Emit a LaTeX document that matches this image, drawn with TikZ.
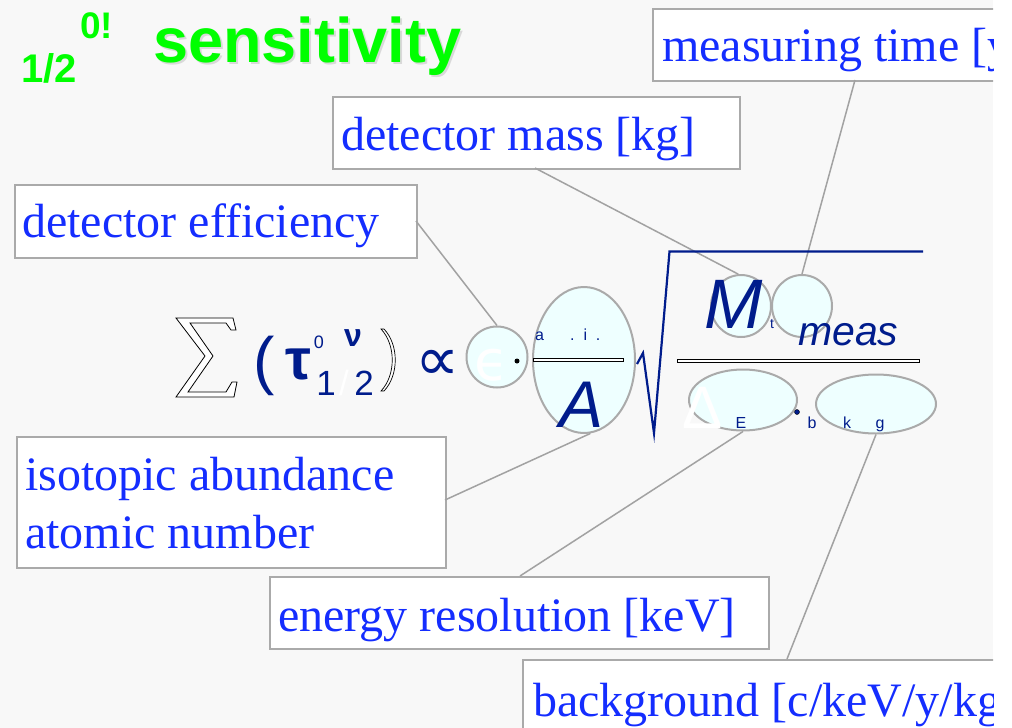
\documentclass[tikz,border=0pt]{standalone}
\usepackage{fontspec}
\setmainfont{Liberation Serif}
\newfontfamily\sansf{Liberation Sans}
\newfontfamily\dvs{DejaVu Sans}
\definecolor{bgc}{RGB}{248,248,248}
\definecolor{lblc}{RGB}{20,45,255}
\definecolor{boxc}{RGB}{170,170,170}
\definecolor{elc}{RGB}{238,255,255}
\definecolor{navy}{RGB}{0,28,140}
\definecolor{titc}{RGB}{0,255,0}
\usetikzlibrary{shapes.geometric}
\tikzset{
  lblbox/.style={draw=boxc, line width=2pt, fill=white, rectangle, inner sep=0pt, anchor=north west},
  lbl/.style={anchor=base west, inner sep=0pt, text=lblc, font=\fontsize{48}{58}\selectfont},
  elbox/.style={draw=boxc, line width=2pt, fill=elc, ellipse, inner sep=0pt},
  conn/.style={draw=boxc!95!black, line width=1.5pt},
  fml/.style={inner sep=0pt, text=navy},
}
\begin{document}
\begin{tikzpicture}[x=1pt,y=-1pt]
\useasboundingbox (0,0) rectangle (1012,728);
\fill[white] (0,0) rectangle (1012,728);
\fill[bgc] (0,0) rectangle (993,728);
\begin{scope}
\clip (0,0) rectangle (993,728);
% title
\node[anchor=base west, inner sep=0pt, text=black!15, font=\sansf\bfseries\fontsize{63}{70}\selectfont] (titS) at (155,64) {sensitivity};
\node[anchor=base west, inner sep=0pt, text=titc, font=\sansf\bfseries\fontsize{63}{70}\selectfont] (tit) at (153,62) {sensitivity};
\node[anchor=base west, inner sep=0pt, text=titc, font=\sansf\bfseries\fontsize{37}{40}\selectfont] (tsup) at (80,38) {0!};
\node[anchor=base west, inner sep=0pt, text=titc, font=\sansf\bfseries\fontsize{40}{44}\selectfont] (tsub) at (21,82) {1/2};

% boxes
\node[lblbox, minimum width=400pt, minimum height=72pt] (mtB) at (652,8) {};
\node[lblbox, minimum width=407pt, minimum height=72pt] (dmB) at (332,96) {};
\node[lblbox, minimum width=402pt, minimum height=73pt] (deB) at (14,184) {};
\node[lblbox, minimum width=429pt, minimum height=131pt] (iaB) at (16,436) {};
\node[lblbox, minimum width=499pt, minimum height=72pt] (erB) at (269,576) {};
\node[lblbox, minimum width=500pt, minimum height=90pt] (bgB) at (522,659) {};

\node[lbl] (mtT) at (662,61) {measuring time [y]};
\node[lbl] (dmT) at (341,150) {detector mass [kg]};
\node[lbl] (deT) at (22,237) {detector efficiency};
\node[lbl] (iaT1) at (25,490) {isotopic abundance};
\node[lbl] (iaT2) at (25,548) {atomic number};
\node[lbl] (erT) at (278,631) {energy resolution [keV]};
\node[lbl] (bgT) at (533,716) {background [c/keV/y/kg]};

% ellipses
\node[elbox, minimum width=61pt, minimum height=61pt] (eps) at (497,357) {};
\node[elbox, minimum width=102pt, minimum height=146pt] (A) at (584,360) {};
\node[elbox, minimum width=60pt, minimum height=62pt] (M) at (741,306) {};
\node[elbox, minimum width=60pt, minimum height=62pt] (t) at (802,306) {};
\node[elbox, minimum width=108pt, minimum height=61pt] (dE) at (743,400) {};
\node[elbox, minimum width=120pt, minimum height=59pt] (bkg) at (876,404) {};

% connector end points on boxes
\coordinate (mtC) at (855,80);
\coordinate (dmC) at (535,168);
\coordinate (deC) at (416,221);
\coordinate (iaC) at (445,500);
\coordinate (erC) at (520,576);
\coordinate (bgC) at (787,659);
\draw[conn] (mtC) -- (t.north);
\draw[conn] (dmC) -- (M.95);
\draw[conn] (deC) -- (eps.north);
\draw[conn] (iaC) -- (A.-85);
\draw[conn] (erC) -- (dE.south);
\draw[conn] (bgC) -- (bkg.south);

% formula: sum sign (outline)
\draw[black, line width=0.8pt, fill=white] (176,318) -- (233,318) -- (236,330) -- (231,330) -- (226,323) -- (190,323) -- (213,356) -- (188,392) -- (226,392) -- (232,382) -- (237,382) -- (234,397) -- (176,397) -- (205,356) -- cycle;
\node[fml, anchor=base, font=\sansf\fontsize{64}{64}\selectfont] (lpar) at (264,382) {(};
\draw[black, line width=0.7pt, fill=white] (381,329) .. controls (396,345) and (396,375) .. (381,391) -- (384,391) .. controls (399,375) and (399,345) .. (384,329) -- cycle;
\node[fml, anchor=base, font=\sansf\bfseries\fontsize{58}{58}\selectfont] (tau) at (298,379) {τ};
\node[fml, anchor=base, font=\sansf\fontsize{18}{18}\selectfont] (sup0) at (319,348) {0};
\node[fml, anchor=base, font=\sansf\bfseries\fontsize{32}{32}\selectfont] (nu) at (353,346) {ν};
\node[fml, anchor=base, font=\sansf\fontsize{35}{35}\selectfont] (one) at (326,395) {1};
\node[fml, anchor=base, text=white, font=\sansf\fontsize{35}{35}\selectfont] (slash) at (344,395) {/};
\node[fml, anchor=base, font=\sansf\fontsize{35}{35}\selectfont] (two) at (364,395) {2};
\node[fml, anchor=base, font=\dvs\fontsize{62}{62}\selectfont] (prop) at (438,380) {∝};
\node[fml, anchor=base, text=white, font=\dvs\fontsize{56}{56}\selectfont] (epsT) at (492,380) {ϵ};
\node[fill=black, circle, inner sep=0pt, minimum size=5pt] (dot1) at (517,361) {};
\draw[black, line width=0.6pt, fill=white] (533,358.5) rectangle (623,361.5);
\node[fml, anchor=base west, font=\sansf\fontsize{16}{16}\selectfont] (aT) at (535,340) {a};
\node[fml, anchor=base west, font=\sansf\fontsize{16}{16}\selectfont] (aiT) at (570,340) {.\ \ i\ \ .};
\node[fml, anchor=base, font=\sansf\itshape\fontsize{66}{66}\selectfont] (AT) at (582,427) {A};
\draw[navy, line width=2.2pt, line join=miter] (637,364) -- (643,353) -- (654,433) -- (669.5,251.5) -- (923,251.5);
\node[fml, anchor=base, font=\sansf\itshape\fontsize{70}{70}\selectfont] (MT) at (734,328) {M};
\node[fml, anchor=base, font=\sansf\fontsize{14}{14}\selectfont] (tT) at (772,328) {t};
\node[fml, anchor=base west, font=\sansf\itshape\fontsize{41}{41}\selectfont] (meas) at (798,345) {meas};
\draw[black, line width=0.6pt, fill=white] (677,359) rectangle (919,362);
\node[anchor=base, inner sep=0pt, text=white, font=\sansf\fontsize{60}{60}\selectfont] (Delta) at (703,428) {Δ};
\node[fml, anchor=base, font=\sansf\fontsize{16}{16}\selectfont] (ET) at (741,428) {E};
\node[fill=navy, draw=black, circle, inner sep=0pt, minimum size=5pt] (dot2) at (797,412) {};
\node[fml, anchor=base, font=\sansf\fontsize{16}{16}\selectfont] (bT) at (812,428) {b};
\node[fml, anchor=base, font=\sansf\fontsize{16}{16}\selectfont] (kT) at (847,428) {k};
\node[fml, anchor=base, font=\sansf\fontsize{16}{16}\selectfont] (gT) at (880,428) {g};
\end{scope}
\end{tikzpicture}
\end{document}
